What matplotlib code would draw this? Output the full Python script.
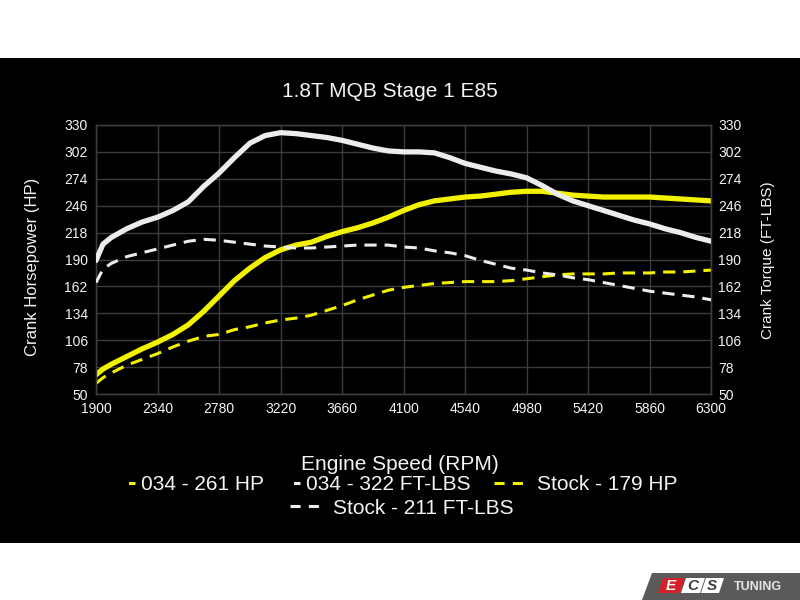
import matplotlib
matplotlib.use("Agg")
import matplotlib.pyplot as plt
from matplotlib.lines import Line2D
from matplotlib.patches import Rectangle, Polygon

plt.rcParams['font.family'] = ['Liberation Sans', 'DejaVu Sans']

# engine speed (rpm) and curves
rpm = [1900, 1950, 2010, 2120, 2230, 2340, 2450, 2560, 2670, 2780,
       2890, 3000, 3110, 3220, 3330, 3440, 3550, 3660, 3770, 3880,
       3990, 4100, 4210, 4320, 4430, 4540, 4650, 4760, 4870, 4980,
       5090, 5200, 5310, 5420, 5530, 5640, 5750, 5860, 5970, 6080,
       6190, 6300]

hp_034 = [70, 76, 81, 89, 97, 104, 112, 122, 136, 152,
          168, 181, 192, 200, 205, 208, 214, 219, 223, 228,
          234, 241, 247, 251, 253, 255, 256, 258, 260, 261,
          261, 259, 257, 256, 255, 255, 255, 255, 254, 253,
          252, 251]

tq_034 = [189, 206, 213, 222, 229, 234, 241, 250, 266, 280,
          296, 311, 319, 322, 321, 319, 317, 314, 310, 306,
          303, 302, 302, 301, 296, 290, 286, 282, 279, 275,
          267, 258, 251, 246, 241, 236, 231, 227, 222, 218,
          213, 209]

hp_stock = [61, 67, 72, 80, 86, 92, 99, 105, 110, 112,
            117, 120, 124, 127, 129, 132, 137, 142, 148, 153,
            158, 161, 163, 165, 166, 167, 167, 167, 168, 170,
            172, 174, 175, 175, 175, 176, 176, 176, 177, 177,
            178, 179]

tq_stock = [166, 180, 186, 193, 197, 201, 205, 209, 211, 210,
            208, 206, 204, 203, 202, 202, 203, 204, 205, 205,
            205, 203, 202, 199, 197, 194, 189, 185, 181, 179,
            176, 174, 171, 169, 166, 163, 160, 157, 155, 153,
            151, 148]

x_ticks = [1900, 2340, 2780, 3220, 3660, 4100, 4540, 4980, 5420, 5860, 6300]
y_ticks = [50, 78, 106, 134, 162, 190, 218, 246, 274, 302, 330]

labels = ["034 - 261 HP", "034 - 322 FT-LBS", "Stock - 179 HP", "Stock - 211 FT-LBS"]

yellow = "#f2f200"
white = "#ececec"
grid_col = "#3c3c3c"
txt = "#f4f4f4"

fig = plt.figure(figsize=(8, 6), dpi=100, facecolor="white")

# black panel behind the chart
fig.patches.append(Rectangle((0, 0.095), 1, 0.8083, transform=fig.transFigure,
                             facecolor="black", edgecolor="none", zorder=-5))

ax = fig.add_axes([0.12, 0.3433, 0.769, 0.4484])
ax.set_facecolor("black")
ax2 = ax.twinx()
ax2.set_facecolor("none")

dash = (4, 2.6)
ax.plot(rpm, hp_034, color=yellow, lw=3.8, solid_capstyle="round", zorder=3)
ax.plot(rpm, hp_stock, color=yellow, lw=2.2, linestyle=(0, dash), zorder=3)
ax2.plot(rpm, tq_034, color=white, lw=3.8, solid_capstyle="round", zorder=3)
ax2.plot(rpm, tq_stock, color=white, lw=2.2, linestyle=(0, dash), zorder=3)

for a in (ax, ax2):
    a.set_xlim(x_ticks[0], x_ticks[-1])
    a.set_ylim(y_ticks[0], y_ticks[-1])
    a.set_yticks(y_ticks)
    a.tick_params(colors=txt, labelsize=10, length=0)
    for s in a.spines.values():
        s.set_color(grid_col)
        s.set_linewidth(1)
ax.set_xticks(x_ticks)
ax.tick_params(axis="y", pad=6)
ax.tick_params(axis="x", pad=6)
ax2.tick_params(axis="y", pad=5)
ax.grid(True, color=grid_col, lw=1)
ax.set_axisbelow(True)

fig.text(0.487, 0.847, "1.8T MQB Stage 1 E85", color=txt, fontsize=15,
         ha="center", va="center")
fig.text(0.5, 0.225, "Engine Speed (RPM)", color=txt, fontsize=15,
         ha="center", va="center")
fig.text(0.041, 0.555, "Crank Horsepower (HP)", color=txt, fontsize=12,
         rotation=90, ha="center", va="center")
fig.text(0.96, 0.567, "Crank Torque (FT-LBS)", color=txt, fontsize=11,
         rotation=90, ha="center", va="center")

# legend handles: short bar for the dyno runs, two dashes for stock
solid_mark = (0, (0, 10, 2.3, 20))
dash_mark = (0, (3.3, 2.7, 3.3, 10))
handles = [Line2D([], [], color=yellow, lw=2.2, linestyle=solid_mark),
           Line2D([], [], color=white, lw=2.2, linestyle=solid_mark),
           Line2D([], [], color=yellow, lw=2.2, linestyle=dash_mark),
           Line2D([], [], color=white, lw=2.2, linestyle=dash_mark)]

# one legend per entry so the odd row layout of the original can be kept
leg_pos = [(98, 485), (263, 485), (494, 485), (290, 508)]
leg_kw = dict(loc="center left", frameon=False, fontsize=15, labelcolor=txt,
              handlelength=1.78, handletextpad=0.3, borderpad=0, borderaxespad=0)
for h, lab, (lx, ly) in zip(handles, labels, leg_pos):
    fig.legend([h], [lab], bbox_to_anchor=(lx / 800, 1 - ly / 600), **leg_kw)

# ECS Tuning badge, bottom right
def px_poly(pts, color):
    fig.patches.append(Polygon([(x / 800, 1 - y / 600) for x, y in pts], closed=True,
                               transform=fig.transFigure, facecolor=color,
                               edgecolor="none"))

px_poly([(642, 600), (652, 573), (800, 573), (800, 600)], "#5a5a5a")
px_poly([(658, 593), (663, 578), (685, 578), (680, 593)], "#d4202a")
px_poly([(681, 593), (686, 578), (705, 578), (700, 593)], "white")
px_poly([(701, 593), (706, 578), (724, 578), (719, 593)], "white")
for xc, letter, col in [(671, "E", "white"), (693, "C", "#3a3a3a"), (712, "S", "#3a3a3a")]:
    fig.text(xc / 800, 1 - 586 / 600, letter, color=col, fontsize=11,
             fontweight="bold", style="italic", ha="center", va="center")
fig.text(758 / 800, 1 - 587 / 600, "TUNING", color="#e6e6e6", fontsize=9,
         fontweight="bold", ha="center", va="center")

fig.savefig("out.png", dpi=100, facecolor="white")
